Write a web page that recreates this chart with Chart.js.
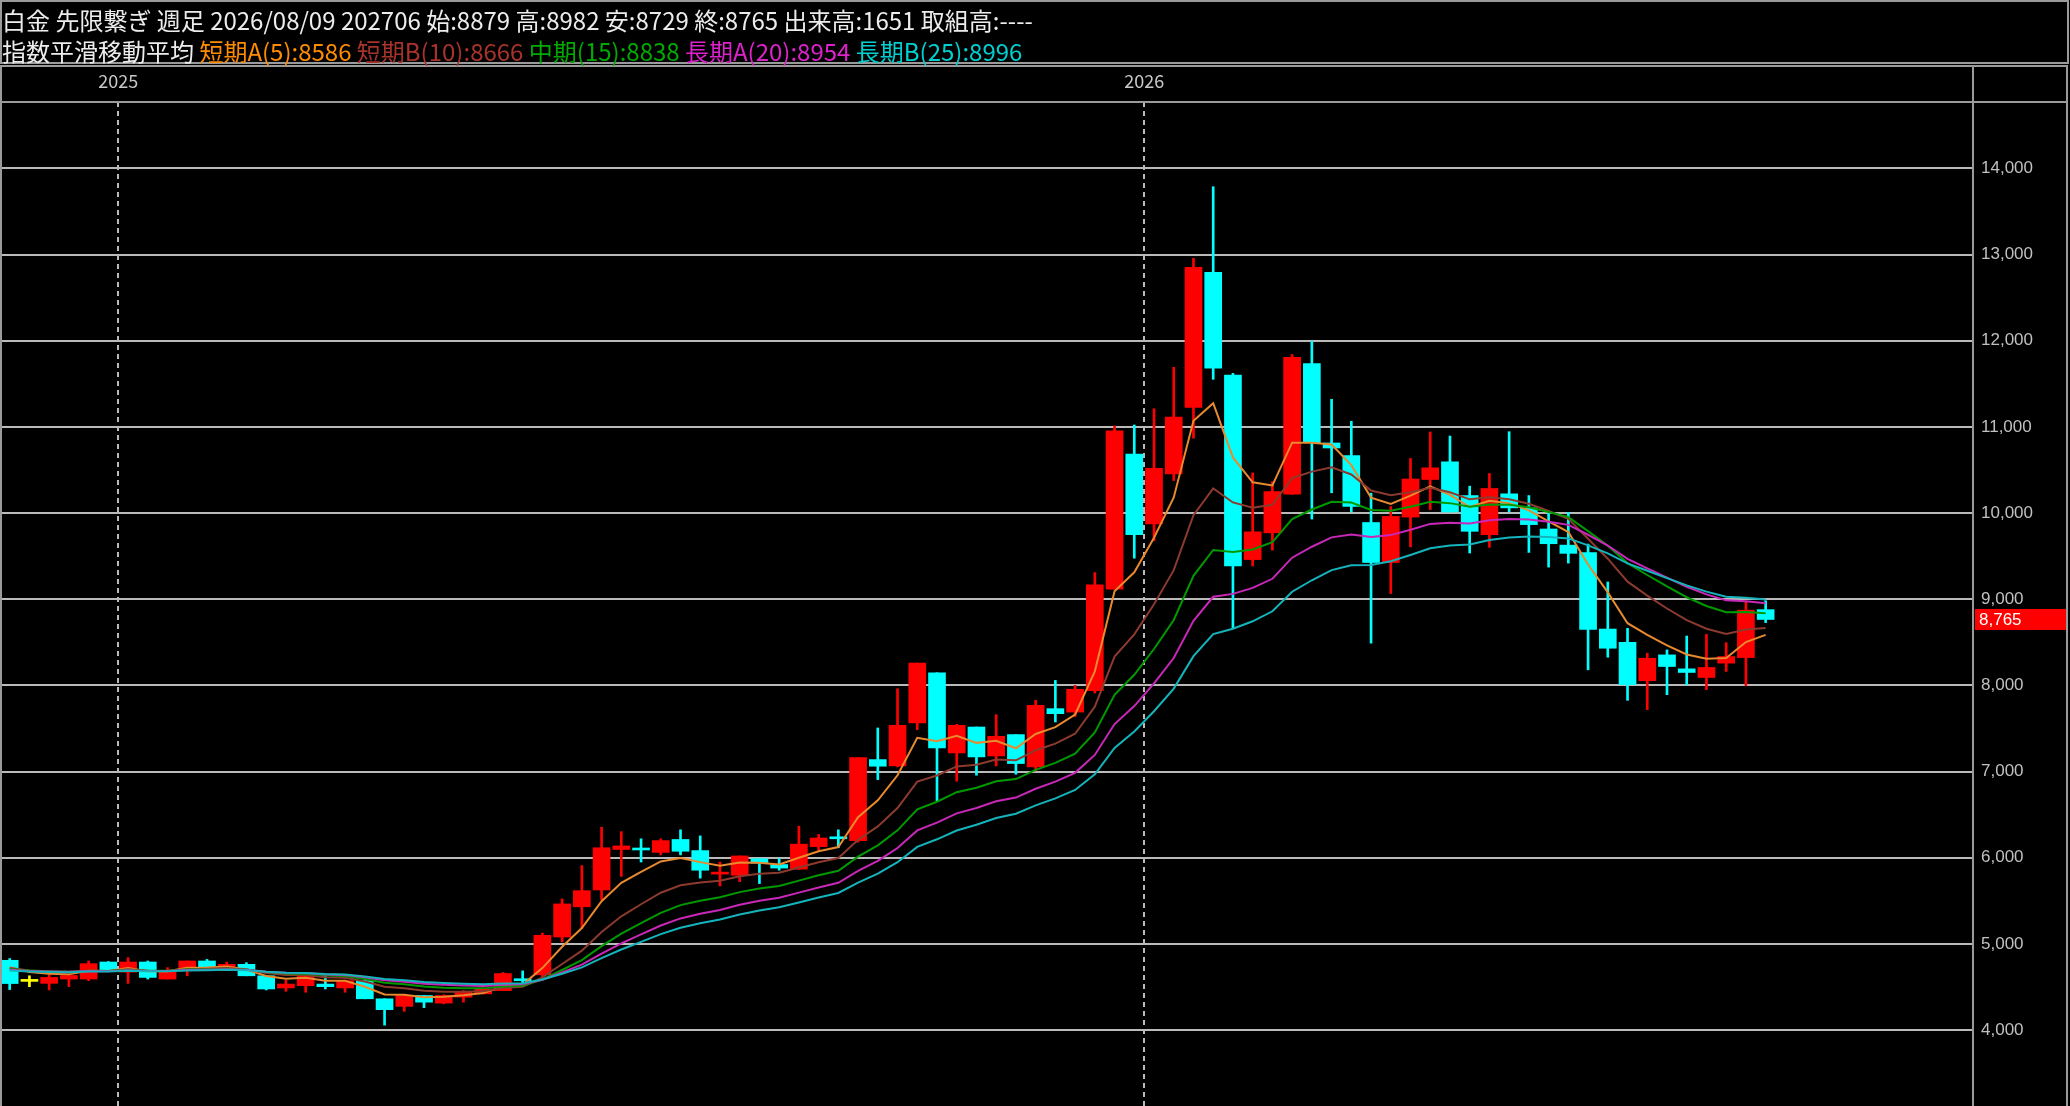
<!DOCTYPE html>
<html><head><meta charset="utf-8">
<script src="https://cdn.jsdelivr.net/npm/chart.js@4.4.1/dist/chart.umd.min.js"></script>
<style>html,body{margin:0;padding:0;background:#000;overflow:hidden}canvas{display:block}</style>
</head><body>
<canvas id="c" width="2070" height="1106"></canvas>
<script>
// ---- data (weekly candles, oldest first) ----
const opens=[4810,4565,4542,4592,4592,4790,4672,4790,4592,4725, 4802,4725,4763,4630,4489,4515,4534,4489,4573,4363, 4275,4401,4313,4382,4420,4458,4592,4641,5080,5431, 5626,6096,6100,6062,6212,6083,5810,5796,5988,5921, 5867,6129,6235,6197,7139,7066,7564,8147,7216,7517, 7181,7429,7054,7730,7690,7940,9116,10683,9874,10454, 11225,12794,11602,9460,9770,10220,11735,10813,10668,9890, 9426,9953,10389,10595,10203,9749,10223,10060,9815,9628, 9540,8654,8500,8054,8354,8192,8092,8258,8323,8879];
const highs=[4830,4630,4641,4640,4802,4795,4840,4802,4725,4802, 4820,4790,4782,4630,4580,4630,4630,4580,4603,4363, 4401,4401,4410,4458,4489,4668,4687,5126,5522,5909, 6353,6303,6220,6220,6324,6253,5950,6021,5988,5992, 6366,6270,6324,7162,7506,7961,8259,8147,7548,7517, 7660,7429,7826,8058,8000,9309,11010,11022,11210,11691, 12956,13787,11622,10465,10364,11840,11995,11320,11065,10230, 10075,10633,10941,10894,10312,10459,10944,10203,10009,10008, 9640,9200,8662,8373,8412,8573,8592,8496,8969,8982];
const lows=[4470,4504,4466,4504,4573,4679,4542,4592,4592,4630, 4733,4706,4630,4466,4450,4439,4477,4439,4363,4057, 4218,4260,4305,4324,4420,4458,4515,4600,5024,5181, 5514,5784,5950,6033,6033,5763,5672,5722,5700,5855, 5867,6075,6116,6180,6907,7054,7486,6656,6888,6958, 7066,6969,7008,7575,7640,7911,9116,9476,9680,10377, 10868,11552,8660,9386,9570,10218,9930,10235,10012,8490, 9066,9608,10040,10013,9536,9602,10013,9543,9373,9419, 8181,8327,7827,7719,7892,8008,7950,8162,7996,8729];
const closes=[4540,4565,4611,4634,4771,4679,4790,4611,4679,4802, 4733,4763,4630,4477,4534,4630,4504,4573,4363,4237, 4401,4324,4401,4439,4477,4656,4573,5100,5464,5618, 6116,6137,6090,6199,6075,5855,5820,6021,5938,5880, 6158,6229,6220,7162,7062,7537,8259,7274,7537,7170, 7409,7093,7768,7672,7955,9166,10954,9750,10518,11115, 12852,11680,9387,9782,10249,11808,10817,10755,10077,9426, 9961,10395,10525,10013,9788,10285,10060,9866,9644,9532, 8650,8431,8008,8315,8219,8150,8208,8335,8873,8765];

// exponential moving averages
const ema5=[4730,4675,4654,4647,4688,4685,4720,4684,4682,4722, 4726,4738,4702,4627,4596,4607,4573,4573,4503,4414, 4410,4381,4388,4405,4429,4505,4528,4719,4967,5184, 5495,5709,5836,5957,5996,5949,5906,5944,5942,5921, 6000,6076,6124,6470,6667,6957,7391,7352,7414,7333, 7358,7270,7436,7515,7662,8163,9093,9312,9714,10181, 11071,11274,10645,10357,10321,10817,10817,10796,10556,10179, 10106,10202,10310,10211,10070,10142,10115,10032,9903,9779, 9403,9079,8722,8586,8464,8359,8309,8318,8503,8586];
const ema10=[4720,4692,4677,4669,4688,4686,4705,4688,4686,4707, 4712,4721,4704,4663,4640,4638,4614,4607,4563,4504, 4485,4456,4446,4445,4451,4488,4503,4612,4767,4922, 5139,5320,5460,5594,5681,5713,5732,5785,5813,5825, 5886,5948,5997,6209,6364,6577,6883,6954,7060,7080, 7140,7131,7247,7324,7439,7753,8335,8592,8942,9337, 9976,10286,10123,10061,10095,10406,10481,10531,10448,10262, 10207,10241,10293,10242,10159,10182,10160,10107,10023,9934, 9701,9470,9204,9042,8892,8757,8657,8598,8648,8666];
const ema15=[4710,4692,4682,4676,4688,4687,4700,4689,4688,4702, 4706,4713,4703,4675,4657,4654,4635,4627,4594,4549, 4531,4505,4492,4485,4484,4506,4514,4587,4697,4812, 4975,5120,5241,5361,5450,5501,5541,5601,5643,5673, 5734,5796,5849,6013,6144,6318,6561,6650,6761,6812, 6887,6913,7020,7101,7208,7453,7891,8123,8422,8759, 9271,9572,9549,9578,9662,9930,10041,10130,10123,10036, 10027,10073,10130,10115,10074,10100,10095,10066,10013,9953, 9790,9620,9419,9281,9148,9023,8921,8848,8851,8838];
const ema20=[4700,4687,4680,4676,4685,4684,4694,4686,4685,4696, 4700,4706,4699,4678,4664,4661,4646,4639,4613,4577, 4560,4538,4525,4517,4513,4527,4531,4585,4669,4759, 4888,5007,5110,5214,5296,5349,5394,5454,5500,5536, 5595,5655,5709,5847,5963,6113,6317,6408,6515,6577, 6656,6698,6800,6883,6985,7193,7551,7760,8023,8317, 8749,9028,9062,9131,9237,9482,9609,9718,9752,9721, 9744,9806,9874,9887,9878,9917,9931,9925,9898,9863, 9748,9623,9469,9359,9250,9145,9056,8987,8976,8954];
const ema25=[4690,4680,4675,4672,4680,4680,4688,4682,4682,4691, 4694,4699,4694,4677,4666,4663,4651,4645,4623,4593, 4578,4558,4546,4538,4533,4542,4544,4587,4654,4728, 4835,4935,5024,5114,5188,5239,5284,5341,5387,5425, 5481,5539,5591,5712,5816,5948,6126,6214,6316,6382, 6461,6510,6607,6689,6786,6969,7275,7465,7700,7963, 8339,8596,8657,8744,8860,9087,9220,9338,9395,9397, 9440,9513,9591,9623,9636,9686,9715,9727,9721,9706, 9625,9533,9416,9331,9245,9161,9088,9030,9018,8996];

const yearLabels=['2025','2026'];
const yearStartIdx=[6,58];          // first weekly bar of each year
const yTicks=[4000,5000,6000,7000,8000,9000,10000,11000,12000,13000,14000];

const headerInfo='白金 先限繋ぎ 週足 2026/08/09 202706 始:8879 高:8982 安:8729 終:8765 出来高:1651 取組高:----';
const maTitle='指数平滑移動平均';
const maNames=['短期A(5)','短期B(10)','中期(15)','長期A(20)','長期B(25)'];
const maLast=[8586,8666,8838,8954,8996];

// ---- styles ----
const RED='#ff0000', CYAN='#00ffff', YELLOW='#ffff00';
const maText=['#ff8c00','#a8332b','#00aa00','#dd22cc','#00d0d0'];
const maLine=['#e88a2e','#8c3a2e','#009a00','#c828b8','#14b4bc'];
const GRID='#bababa', FRAME='#9a9a9a';
const CJK='"Noto Sans CJK JP", sans-serif';
const NUM='"Liberation Sans", Arial, sans-serif';

const idx=closes.map((_,i)=>i);
const candleColor=idx.map(i=>closes[i]>opens[i]?RED:(closes[i]<opens[i]?CYAN:YELLOW));
const emas=[ema5,ema10,ema15,ema20,ema25];

const lineSets=emas.map((arr,k)=>({
  type:'line', label:maNames[k], data:idx.map(i=>({x:i,y:arr[i]})),
  borderColor:maLine[k], borderWidth:2, pointRadius:0, tension:0, order:4-k
}));

const frame={
  id:'frame',
  beforeDraw(chart){const c=chart.ctx;c.save();c.fillStyle='#000';c.fillRect(0,0,chart.width,chart.height);c.restore();},
  afterDraw(chart){
    const c=chart.ctx, a=chart.chartArea, ys=chart.scales.y;
    c.save();
    c.strokeStyle=FRAME; c.lineWidth=2;
    const ln=(x1,y1,x2,y2)=>{c.beginPath();c.moveTo(x1,y1);c.lineTo(x2,y2);c.stroke();};
    c.strokeRect(1,1,2067,62);
    ln(0,66,2068,66); ln(0,a.top,2068,a.top);
    ln(1,66,1,chart.height); ln(a.right,66,a.right,chart.height); ln(2067,66,2067,chart.height);
    // last price label
    const last=closes[closes.length-1];
    const py=ys.getPixelForValue(last);
    c.fillStyle=RED; c.fillRect(a.right+2,py-10.5,91,21);
    c.fillStyle='#ffffff'; c.font='17px '+NUM; c.textBaseline='middle'; c.textAlign='left';
    c.fillText(last.toLocaleString('en-US'),a.right+6,py+1);
    // header text
    c.font='24px '+CJK; c.textBaseline='middle';
    c.fillStyle='#ececec'; c.fillText(headerInfo,2,21);
    let x=2;
    c.fillText(maTitle,x,52); x+=c.measureText(maTitle+' ').width;
    maNames.forEach((n,k)=>{const s=n+':'+maLast[k];c.fillStyle=maText[k];c.fillText(s,x,52);x+=c.measureText(s+' ').width;});
    c.restore();
  }
};

new Chart(document.getElementById('c'),{
  type:'bar',
  data:{datasets:[
    ...lineSets,
    {type:'bar',label:'body',data:idx.map(i=>({x:i,y:[opens[i],closes[i]]})),backgroundColor:candleColor,barThickness:17,minBarLength:2,grouped:false,borderWidth:0,order:5},
    {type:'bar',label:'wick',data:idx.map(i=>({x:i,y:[lows[i],highs[i]]})),backgroundColor:candleColor,barThickness:2,grouped:false,borderWidth:0,order:6}
  ]},
  options:{
    responsive:false, animation:false, devicePixelRatio:1,
    layout:{padding:{top:66,left:2,right:0,bottom:0}},
    plugins:{legend:{display:false},tooltip:{enabled:false}},
    scales:{
      x:{type:'linear',position:'top',min:-0.39,max:99.51,offset:false,
        afterBuildTicks:s=>{s.ticks=yearStartIdx.map(v=>({value:v-0.5}));},
        afterFit:s=>{s.height=36;s.paddingLeft=0;s.paddingRight=0;},
        ticks:{padding:10,color:'#c8c8c8',font:{family:CJK,size:18},maxRotation:0,autoSkip:false,
          callback:(v,i)=>yearLabels[i]},
        grid:{offset:false,color:GRID,lineWidth:2,drawTicks:false,drawOnChartArea:true},
        border:{display:false,dash:[5,4]}},
      y:{type:'linear',position:'right',min:3119,max:14770,
        afterBuildTicks:s=>{s.ticks=yTicks.map(v=>({value:v}));},
        afterFit:s=>{s.width=97;s.paddingTop=0;s.paddingBottom=0;},
        ticks:{padding:8,color:'#c0c0c0',font:{family:NUM,size:17},callback:v=>v.toLocaleString('en-US')},
        grid:{color:GRID,lineWidth:2,drawTicks:false},
        border:{display:false}}
    }
  },
  plugins:[frame]
});
</script>
</body></html>
